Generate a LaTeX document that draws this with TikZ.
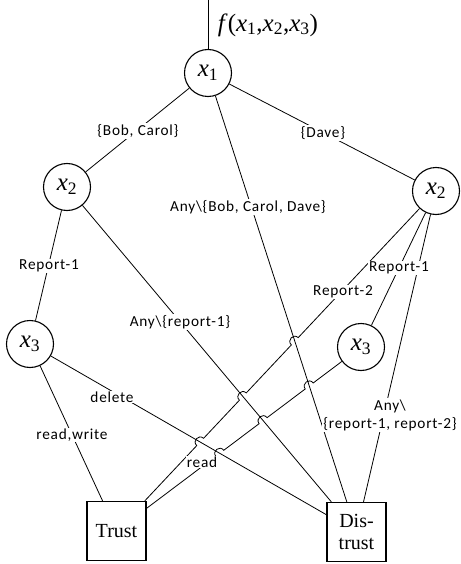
\documentclass[tikz,border=0pt]{standalone}
\usepackage{fontspec}
\setmainfont{Liberation Serif}
\newfontfamily\lblfont[LetterSpace=5]{Carlito}
\usetikzlibrary{intersections,calc}
\newcommand\xv[1]{\textit{x}\textsubscript{#1}}
\begin{document}
\begin{tikzpicture}[x=1pt,y=1pt,
  var/.style={draw,circle,line width=1.1pt,minimum size=47pt,inner sep=0pt,font=\fontsize{25}{27}\selectfont},
  box/.style={draw,line width=1.3pt,minimum width=59pt,minimum height=59pt,inner sep=0pt,align=center,font=\fontsize{20}{22}\selectfont},
  lbl/.style={fill=white,inner sep=1pt,align=center,font=\lblfont\fontsize{15.3}{18}\selectfont},
  conn/.style={line width=0.8pt},
  jump/.style={bend right=90,looseness=1.7}
]
\useasboundingbox (0,0) rectangle (460,-564);
% nodes
\node[var] (x1)  at (208,-73)  {\xv{1}};
\node[var] (x2L) at (67,-187)  {\xv{2}};
\node[var] (x2R) at (436,-191) {\xv{2}};
\node[var] (x3L) at (30,-344)  {\xv{3}};
\node[var] (x3R) at (361,-347) {\xv{3}};
\node[box] (T) at (116.5,-531) {Trust};
\node[box] (D) at (356.5,-532) {Dis-\\trust};
\coordinate (top) at (208,0);
\node[font=\fontsize{25}{27}\selectfont] (f) at (268,-25) {\textit{f}(\xv{1},\xv{2},\xv{3})};
% plain connectors
\draw[conn] (top) -- (x1);
\draw[conn] (x1) -- (x2L);
\draw[conn] (x1) -- (x2R);
\draw[conn] (x1) -- (D);
\draw[conn] (x2L) -- (x3L);
\draw[conn] (x2L) -- (D);
\draw[conn] (x3L) -- (T);
\draw[conn] (x3L) -- (D);
\draw[conn] (x2R) -- (x3R);
\draw[conn] (x2R) -- (D);
% crossings
\path[name path=LA] (x1.center) -- (D.center);
\path[name path=LB] (x2L.center) -- (D.center);
\path[name path=LC] (x3L.center) -- (D.center);
\path[name path=M1] (x2R.center) -- (T.center);
\path[name path=M2] (x3R.center) -- (T.center);
\path[name intersections={of=M1 and LA,by=ja1}];
\path[name intersections={of=M1 and LB,by=jb1}];
\path[name intersections={of=M1 and LC,by=jc1}];
\path[name intersections={of=M2 and LA,by=ja2}];
\path[name intersections={of=M2 and LB,by=jb2}];
\path[name intersections={of=M2 and LC,by=jc2}];
\def\jr{5pt}
\draw[conn] (x2R) -- ($(ja1)!\jr!(x2R.center)$) to[jump] ($(ja1)!\jr!(T.center)$)
  -- ($(jb1)!\jr!(x2R.center)$) to[jump] ($(jb1)!\jr!(T.center)$)
  -- ($(jc1)!\jr!(x2R.center)$) to[jump] ($(jc1)!\jr!(T.center)$) -- (T);
\draw[conn] (x3R) -- ($(ja2)!\jr!(x3R.center)$) to[jump] ($(ja2)!\jr!(T.center)$)
  -- ($(jb2)!\jr!(x3R.center)$) to[jump] ($(jb2)!\jr!(T.center)$)
  -- ($(jc2)!\jr!(x3R.center)$) to[jump] ($(jc2)!\jr!(T.center)$) -- (T);
% labels
\node[lbl] (l1) at (138,-131) {\{Bob, Carol\}};
\node[lbl] (l2) at (323,-133) {\{Dave\}};
\node[lbl] (l3) at (248,-207) {Any\textbackslash\{Bob, Carol, Dave\}};
\node[lbl] (l4) at (49,-266) {Report-1};
\node[lbl] (l5) at (180,-322) {Any\textbackslash\{report-1\}};
\node[lbl] (l6) at (399,-268) {Report-1};
\node[lbl] (l7) at (343,-292) {Report-2};
\node[lbl] (l8) at (112,-397) {delete};
\node[lbl] (l9) at (72,-435) {read,write};
\node[lbl] (l10) at (202,-462) {read};
\node[lbl] (l11) at (390,-415) {Any\textbackslash\\\{report-1, report-2\}};
\end{tikzpicture}
\end{document}
